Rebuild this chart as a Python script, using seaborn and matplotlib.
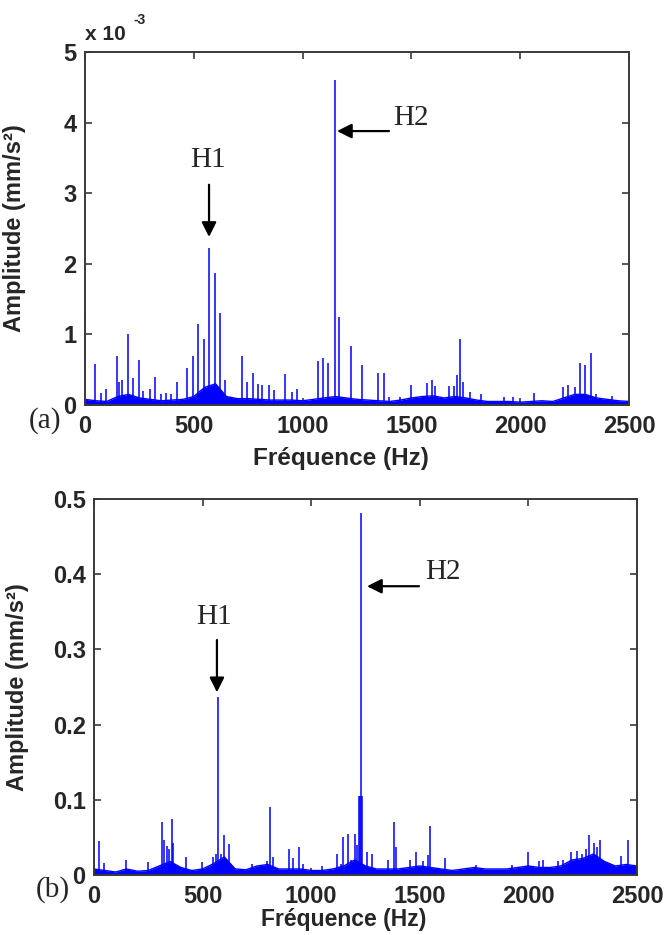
import matplotlib
matplotlib.use("Agg")
import matplotlib.pyplot as plt
import seaborn as sns

# ---------------- data ----------------
freq_grid = [0, 50, 100, 150, 200, 250, 300, 350, 400, 450, 500, 550, 600, 650, 700,
             750, 800, 850, 900, 950, 1000, 1050, 1100, 1150, 1200, 1250, 1300, 1350,
             1400, 1450, 1500, 1550, 1600, 1650, 1700, 1750, 1800, 1850, 1900, 1950,
             2000, 2050, 2100, 2150, 2200, 2250, 2300, 2350, 2400, 2450, 2500]

# noise floor of spectrum (a), in 1e-3 mm/s²
floor_a = [0.08, 0.06, 0.05, 0.12, 0.15, 0.10, 0.08, 0.06, 0.07, 0.08, 0.12, 0.25,
           0.30, 0.12, 0.09, 0.09, 0.08, 0.07, 0.07, 0.07, 0.06, 0.08, 0.10, 0.12,
           0.10, 0.08, 0.07, 0.06, 0.05, 0.07, 0.10, 0.12, 0.13, 0.10, 0.12, 0.10,
           0.07, 0.05, 0.05, 0.05, 0.04, 0.05, 0.06, 0.05, 0.10, 0.15, 0.15, 0.10,
           0.08, 0.06, 0.05]

peak_freq_a = [0, 46, 74, 97, 146, 155, 168, 198, 219, 247, 268, 299, 322, 350, 372,
               394, 423, 467, 498, 521, 547, 571, 597, 620, 643, 723, 745, 774, 797,
               812, 847, 868, 919, 950, 973, 1072, 1095, 1119, 1147, 1167, 1221, 1271,
               1345, 1374, 1398, 1448, 1498, 1570, 1593, 1608, 1674, 1696, 1710, 1725,
               1736, 1768, 1819, 1926, 1967, 2065, 2198, 2221, 2252, 2273, 2296, 2324,
               2347, 2420]
peak_amp_a = [1.30, 0.58, 0.17, 0.23, 0.69, 0.33, 0.35, 1.00, 0.38, 0.64, 0.20, 0.22,
              0.40, 0.16, 0.17, 0.16, 0.33, 0.53, 0.70, 1.15, 0.93, 2.22, 1.87, 1.30,
              0.35, 0.70, 0.33, 0.46, 0.30, 0.29, 0.28, 0.21, 0.44, 0.19, 0.22, 0.62,
              0.67, 0.60, 4.60, 1.25, 0.83, 0.56, 0.46, 0.46, 0.12, 0.12, 0.28, 0.31,
              0.35, 0.27, 0.27, 0.27, 0.42, 0.93, 0.33, 0.18, 0.15, 0.12, 0.12, 0.17,
              0.25, 0.28, 0.25, 0.60, 0.56, 0.73, 0.15, 0.13]

# noise floor of spectrum (b), in mm/s²
floor_b = [0.008, 0.006, 0.004, 0.008, 0.005, 0.006, 0.012, 0.018, 0.010, 0.006,
           0.008, 0.015, 0.024, 0.008, 0.007, 0.012, 0.014, 0.008, 0.008, 0.008,
           0.006, 0.006, 0.008, 0.012, 0.020, 0.012, 0.008, 0.008, 0.008, 0.010,
           0.012, 0.010, 0.008, 0.006, 0.008, 0.010, 0.008, 0.008, 0.008, 0.010,
           0.012, 0.010, 0.010, 0.012, 0.020, 0.022, 0.028, 0.018, 0.012, 0.014,
           0.012]

peak_freq_b = [0, 23, 46, 146, 247, 313, 321, 335, 344, 359, 365, 424, 497, 549, 560,
               572, 585, 599, 623, 729, 795, 810, 823, 899, 915, 944, 964, 1048, 1120,
               1137, 1148, 1168, 1183, 1202, 1212, 1221, 1226, 1229, 1236, 1258, 1281,
               1355, 1383, 1390, 1455, 1481, 1516, 1536, 1545, 1617, 1761, 1923, 1999,
               2050, 2068, 2135, 2161, 2195, 2225, 2248, 2264, 2279, 2300, 2314, 2330,
               2425, 2460, 2499]
peak_amp_b = [0.206, 0.045, 0.016, 0.020, 0.017, 0.070, 0.047, 0.038, 0.035, 0.074,
              0.043, 0.024, 0.017, 0.024, 0.028, 0.237, 0.028, 0.053, 0.041, 0.015,
              0.018, 0.090, 0.024, 0.035, 0.022, 0.037, 0.015, 0.012, 0.028, 0.015,
              0.051, 0.055, 0.020, 0.055, 0.040, 0.105, 0.105, 0.481, 0.105, 0.030,
              0.028, 0.020, 0.070, 0.037, 0.020, 0.030, 0.018, 0.027, 0.065, 0.022,
              0.013, 0.013, 0.030, 0.018, 0.020, 0.018, 0.020, 0.030, 0.032, 0.028,
              0.034, 0.053, 0.042, 0.037, 0.047, 0.025, 0.047, 0.017]

x_ticks = [0, 500, 1000, 1500, 2000, 2500]
y_ticks_a = [0, 1, 2, 3, 4, 5]
y_ticks_b = [0, 0.1, 0.2, 0.3, 0.4, 0.5]
y_ticklabels_b = ["0", "0.1", "0.2", "0.3", "0.4", "0.5"]

# ---------------- style ----------------
sns.set_style("ticks")
plt.rcParams["font.family"] = ["Liberation Sans", "DejaVu Sans"]
BLUE = "#0000FF"
SPINE = "#3a3a3a"
SANS = ["Liberation Sans", "DejaVu Sans"]
SERIF = ["Liberation Serif", "DejaVu Serif"]

W, H = 667, 935
fig = plt.figure(figsize=(W / 100, H / 100), dpi=100)


def px_axes(l, t, r, b):
    return fig.add_axes([l / W, 1 - b / H, (r - l) / W, (b - t) / H])


ax_a = px_axes(85, 52, 629, 405)
ax_b = px_axes(94, 499, 637, 875)


def draw_spectrum(ax, floor, pf, pa):
    ax.fill_between(freq_grid, 0, floor, color=BLUE, lw=0)
    sns.lineplot(x=freq_grid, y=floor, ax=ax, color=BLUE, lw=1.0,
                 estimator=None, sort=False)
    ax.vlines(pf, 0, pa, color=BLUE, lw=1.1)


def style_axes(ax, yt, ytl, ymax):
    ax.set_xlim(0, 2500)
    ax.set_ylim(0, ymax)
    ax.set_xticks(x_ticks)
    ax.set_xticklabels([str(v) for v in x_ticks])
    ax.set_yticks(yt)
    ax.set_yticklabels(ytl)
    for s in ax.spines.values():
        s.set_visible(True)
        s.set_color(SPINE)
        s.set_linewidth(1.4)
    ax.tick_params(direction="in", length=5, width=1.2, color=SPINE,
                   top=True, right=True, labelsize=17)
    ax.tick_params(axis="x", pad=7)
    ax.tick_params(axis="y", pad=6)
    for lab in ax.get_xticklabels() + ax.get_yticklabels():
        lab.set_fontweight("bold")
        lab.set_family(SANS)
    ax.set_xlabel("Fréquence (Hz)", fontsize=17.5, fontweight="bold", labelpad=4)
    ax.set_ylabel("Amplitude (mm/s²)", fontsize=17, fontweight="bold", labelpad=4)


draw_spectrum(ax_a, floor_a, peak_freq_a, peak_amp_a)
style_axes(ax_a, y_ticks_a, [str(v) for v in y_ticks_a], 5)
draw_spectrum(ax_b, floor_b, peak_freq_b, peak_amp_b)
style_axes(ax_b, y_ticks_b, y_ticklabels_b, 0.5)
ax_b.xaxis.label.set_fontsize(16.5)

# label positions
ax_a.xaxis.set_label_coords(0.47, -0.12)
ax_b.xaxis.set_label_coords(0.46, -0.088)
ax_a.yaxis.set_label_coords(-0.108, 0.5)
ax_b.yaxis.set_label_coords(-0.12, 0.5)

# exponent label
fig.text(85 / W, 1 - 40 / H, "x 10", fontsize=15, fontweight="bold", family=SANS,
         va="baseline", ha="left")
fig.text(133 / W, 1 - 24 / H, "-3", fontsize=10, fontweight="bold", family=SANS,
         va="baseline", ha="left")

# panel letters
fig.text(45 / W, 1 - 421 / H, "(a)", fontsize=21, family=SERIF, ha="center", va="center")
fig.text(53 / W, 1 - 890 / H, "(b)", fontsize=21, family=SERIF, ha="center", va="center")

arrow = dict(arrowstyle="-|>", mutation_scale=22, color="black", lw=1.6,
             shrinkA=0, shrinkB=0)

# annotations (a)
ax_a.text(565, 3.47, "H1", fontsize=21, family=SERIF, ha="center", va="center")
ax_a.annotate("", xy=(570, 2.38), xytext=(570, 3.12), arrowprops=arrow)
ax_a.text(1415, 4.07, "H2", fontsize=21, family=SERIF, ha="left", va="center")
ax_a.annotate("", xy=(1158, 3.88), xytext=(1397, 3.88), arrowprops=arrow)

# annotations (b)
ax_b.text(552, 0.343, "H1", fontsize=21, family=SERIF, ha="center", va="center")
ax_b.annotate("", xy=(566, 0.243), xytext=(566, 0.3125), arrowprops=arrow)
ax_b.text(1524, 0.403, "H2", fontsize=21, family=SERIF, ha="left", va="center")
ax_b.annotate("", xy=(1257, 0.384), xytext=(1496, 0.384), arrowprops=arrow)

fig.savefig("out.png", dpi=100)
